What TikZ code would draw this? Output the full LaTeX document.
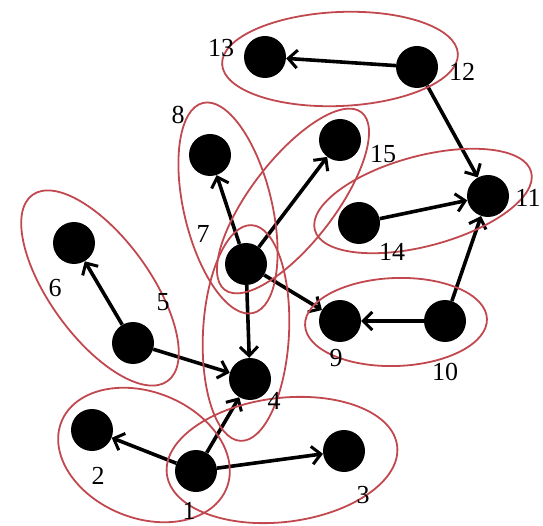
\documentclass[tikz,border=0pt]{standalone}
\usepackage{fontspec}
\setmainfont{Liberation Serif}
\usetikzlibrary{arrows.meta,shapes.geometric}
\definecolor{ellred}{RGB}{192,72,78}
\begin{document}
\begin{tikzpicture}[x=1pt,y=-1pt,
  vtx/.style={circle,fill=black,minimum size=42pt,inner sep=0pt},
  lbl/.style={font=\fontsize{26}{26}\selectfont,inner sep=0pt},
  edge/.style={line width=3.6pt,-{Straight Barb[length=9pt,width=18pt,line width=3pt]}},
  grp/.style={draw=ellred,line width=1.8pt,ellipse,inner sep=0pt}]
\useasboundingbox (0,0) rectangle (543,526);
% vertices
\node[vtx] (n1) at (196,471) {};
\node[vtx] (n2) at (92,430) {};
\node[vtx] (n3) at (344,451) {};
\node[vtx] (n4) at (250,379) {};
\node[vtx] (n5) at (133,343) {};
\node[vtx] (n6) at (74,243) {};
\node[vtx] (n7) at (246,264) {};
\node[vtx] (n8) at (210,155) {};
\node[vtx] (n9) at (340,321) {};
\node[vtx] (n10) at (445,321) {};
\node[vtx] (n11) at (488,196) {};
\node[vtx] (n12) at (417,67) {};
\node[vtx] (n13) at (265,57) {};
\node[vtx] (n14) at (359,223) {};
\node[vtx] (n15) at (340,140) {};
% edges
\draw[edge] (n12) -- (n13);
\draw[edge] (n12) -- (n11);
\draw[edge] (n14) -- (n11);
\draw[edge] (n10) -- (n11);
\draw[edge] (n10) -- (n9);
\draw[edge] (n7) -- (n9);
\draw[edge] (n7) -- (n8);
\draw[edge] (n7) -- (n15);
\draw[edge] (n7) -- (n4);
\draw[edge] (n5) -- (n6);
\draw[edge] (n5) -- (n4);
\draw[edge] (n1) -- (n2);
\draw[edge] (n1) -- (n3);
\draw[edge] (n1) -- (n4);
% groups
\node[grp,minimum width=236pt,minimum height=94pt,rotate=2.5] (g1) at (340,59) {};
\node[grp,minimum width=216pt,minimum height=88pt,rotate=103.4] (g2) at (228,208) {};
\node[grp,minimum width=224pt,minimum height=84pt,rotate=52.4] (g3) at (293,201) {};
\node[grp,minimum width=224pt,minimum height=90pt,rotate=15] (g4) at (423,201) {};
\node[grp,minimum width=182pt,minimum height=88pt,rotate=2] (g5) at (396,322) {};
\node[grp,minimum width=230pt,minimum height=100pt,rotate=-54] (g6) at (100,288) {};
\node[grp,minimum width=86pt,minimum height=216pt,rotate=-3] (g7) at (246,333) {};
\node[grp,minimum width=178pt,minimum height=126pt,rotate=-22] (g8) at (144,455) {};
\node[grp,minimum width=232pt,minimum height=124pt,rotate=7] (g9) at (282,460) {};
% labels
\node[lbl] (l1) at (189,511) {1};
\node[lbl] (l2) at (98,476) {2};
\node[lbl] (l3) at (363,495) {3};
\node[lbl] (l4) at (274,401) {4};
\node[lbl] (l5) at (163,302) {5};
\node[lbl] (l6) at (55,288) {6};
\node[lbl] (l7) at (203,234) {7};
\node[lbl] (l8) at (178,115) {8};
\node[lbl] (l9) at (336,358) {9};
\node[lbl] (l10) at (445,372) {10};
\node[lbl] (l11) at (528,198) {11};
\node[lbl] (l12) at (462,72) {12};
\node[lbl] (l13) at (221,48) {13};
\node[lbl] (l14) at (392,252) {14};
\node[lbl] (l15) at (383,154) {15};
\end{tikzpicture}
\end{document}
